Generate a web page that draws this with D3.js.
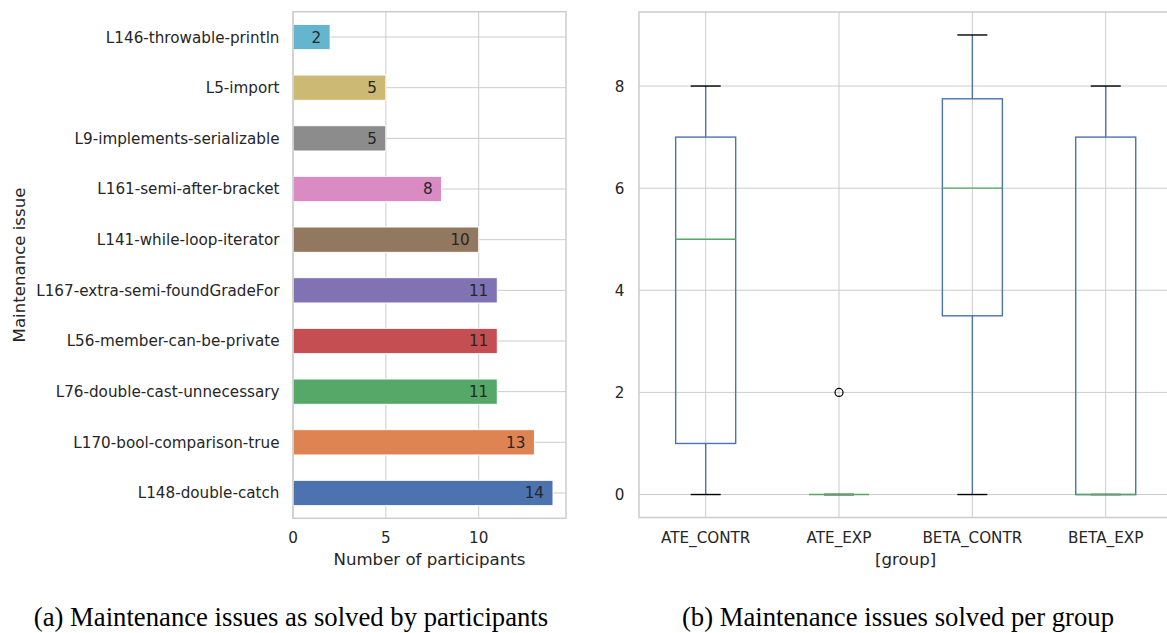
<!DOCTYPE html>
<html><head><meta charset="utf-8">
<script src="https://cdn.jsdelivr.net/npm/d3@7"></script>
<style>body{margin:0;background:#fff}svg{display:block}</style>
</head><body>
<svg id="c" width="1167" height="633"></svg>
<script>
// ---- data ----
const issues = ["L148-double-catch","L170-bool-comparison-true","L76-double-cast-unnecessary","L56-member-can-be-private","L167-extra-semi-foundGradeFor","L141-while-loop-iterator","L161-semi-after-bracket","L9-implements-serializable","L5-import","L146-throwable-println"];
const participants = [14,13,11,11,11,10,8,5,5,2];
const xTicksA = [0,5,10];

const groups = ["ATE_CONTR","ATE_EXP","BETA_CONTR","BETA_EXP"];
const whiskerLow = [0,0,0,0];
const q1 = [1,0,3.5,0];
const medians = [5,0,6,0];
const q3 = [7,0,7.75,7];
const whiskerHigh = [8,0,9,8];
const outliers = [[],[2],[],[]];
const yTicksB = [0,2,4,6,8];

const palette = ["#4C72B0","#DD8452","#55A868","#C44E52","#8172B3","#937860","#DA8BC3","#8C8C8C","#CCB974","#64B5CD"];

const svg = d3.select("#c");
const FONT = "DejaVu Sans, sans-serif";
const TXT = "#262626", GRID = "#cccccc";
const TICK = 15.2, LAB = 16.6;

// ---- left: bar chart ----
const xA = d3.scaleLinear().domain([0,14.7]).range([293,566]);
const yA = d3.scaleLinear().domain([-0.5,9.5]).range([518.3,11.7]);
const gA = svg.append("g");
gA.selectAll(".vg").data(xTicksA).join("line")
  .attr("x1",d=>xA(d)).attr("x2",d=>xA(d)).attr("y1",yA(-0.5)).attr("y2",yA(9.5))
  .attr("stroke",GRID).attr("stroke-width",1);
gA.selectAll(".hg").data(issues).join("line")
  .attr("x1",xA(0)).attr("x2",xA(14.7)).attr("y1",(d,i)=>yA(i)).attr("y2",(d,i)=>yA(i))
  .attr("stroke",GRID).attr("stroke-width",1);
gA.selectAll("rect.bar").data(participants).join("rect")
  .attr("x",xA(0)).attr("width",d=>xA(d)-xA(0))
  .attr("y",(d,i)=>yA(i+0.25)).attr("height",(d,i)=>yA(i-0.25)-yA(i+0.25))
  .attr("fill",(d,i)=>palette[i]).attr("stroke","#fff").attr("stroke-width",1);
gA.selectAll("text.val").data(participants).join("text")
  .attr("x",d=>xA(d)-9).attr("y",(d,i)=>yA(i)).attr("dy","0.36em")
  .attr("text-anchor","end").attr("font-family",FONT).attr("font-size",TICK).attr("fill",TXT)
  .text(d=>d);
gA.selectAll("text.cat").data(issues).join("text")
  .attr("x",xA(0)-13.5).attr("y",(d,i)=>yA(i)).attr("dy","0.36em")
  .attr("text-anchor","end").attr("font-family",FONT).attr("font-size",TICK).attr("fill",TXT)
  .text(d=>d);
gA.selectAll("text.xt").data(xTicksA).join("text")
  .attr("x",d=>xA(d)).attr("y",538).attr("dy","0.36em")
  .attr("text-anchor","middle").attr("font-family",FONT).attr("font-size",TICK).attr("fill",TXT)
  .text(d=>d);
gA.append("text").attr("x",(xA(0)+xA(14.7))/2).attr("y",559).attr("dy","0.36em")
  .attr("text-anchor","middle").attr("font-family",FONT).attr("font-size",LAB).attr("fill",TXT)
  .text("Number of participants");
gA.append("text").attr("transform",`translate(19,${(yA(-0.5)+yA(9.5))/2}) rotate(-90)`).attr("dy","0.36em")
  .attr("text-anchor","middle").attr("font-family",FONT).attr("font-size",LAB).attr("fill",TXT)
  .text("Maintenance issue");
gA.append("rect").attr("x",xA(0)).attr("y",yA(9.5)).attr("width",xA(14.7)-xA(0)).attr("height",yA(-0.5)-yA(9.5))
  .attr("fill","none").attr("stroke",GRID).attr("stroke-width",1.5);

// ---- right: box plot ----
const xB = d3.scaleLinear().domain([0.5,4.5]).range([639,1172.4]);
const yB = d3.scaleLinear().domain([-0.45,9.45]).range([517.5,12]);
const gB = svg.append("g");
gB.selectAll(".vg").data(groups).join("line")
  .attr("x1",(d,i)=>xB(i+1)).attr("x2",(d,i)=>xB(i+1)).attr("y1",yB(-0.45)).attr("y2",yB(9.45))
  .attr("stroke",GRID).attr("stroke-width",1);
gB.selectAll(".hg").data(yTicksB).join("line")
  .attr("x1",xB(0.5)).attr("x2",xB(4.5)).attr("y1",d=>yB(d)).attr("y2",d=>yB(d))
  .attr("stroke",GRID).attr("stroke-width",1);
const BOX="#4C72B0";
groups.forEach((g,i)=>{
  const p=i+1, hw=0.225, cw=0.1125;
  gB.append("line").attr("x1",xB(p)).attr("x2",xB(p)).attr("y1",yB(q3[i])).attr("y2",yB(whiskerHigh[i])).attr("stroke",BOX).attr("stroke-width",1.4);
  gB.append("line").attr("x1",xB(p)).attr("x2",xB(p)).attr("y1",yB(q1[i])).attr("y2",yB(whiskerLow[i])).attr("stroke",BOX).attr("stroke-width",1.4);
  [whiskerLow[i],whiskerHigh[i]].forEach(v=>{
    gB.append("line").attr("x1",xB(p-cw)).attr("x2",xB(p+cw)).attr("y1",yB(v)).attr("y2",yB(v)).attr("stroke","#000").attr("stroke-width",1.4);
  });
  gB.append("rect").attr("x",xB(p-hw)).attr("width",xB(p+hw)-xB(p-hw))
    .attr("y",yB(q3[i])).attr("height",Math.max(0,yB(q1[i])-yB(q3[i])))
    .attr("fill","none").attr("stroke",BOX).attr("stroke-width",1.4);
  gB.append("line").attr("x1",xB(p-hw)).attr("x2",xB(p+hw)).attr("y1",yB(medians[i])).attr("y2",yB(medians[i])).attr("stroke","#55A868").attr("stroke-width",1.4);
  outliers[i].forEach(v=>{
    gB.append("circle").attr("cx",xB(p)).attr("cy",yB(v)).attr("r",4).attr("fill","none").attr("stroke","#000").attr("stroke-width",1.2);
  });
});
gB.selectAll("text.yt").data(yTicksB).join("text")
  .attr("x",624.5).attr("y",d=>yB(d)).attr("dy","0.36em")
  .attr("text-anchor","end").attr("font-family",FONT).attr("font-size",TICK).attr("fill",TXT)
  .text(d=>d);
gB.selectAll("text.xt").data(groups).join("text")
  .attr("x",(d,i)=>xB(i+1)).attr("y",538).attr("dy","0.36em")
  .attr("text-anchor","middle").attr("font-family",FONT).attr("font-size",TICK).attr("fill",TXT)
  .text(d=>d);
gB.append("text").attr("x",(xB(0.5)+xB(4.5))/2).attr("y",559).attr("dy","0.36em")
  .attr("text-anchor","middle").attr("font-family",FONT).attr("font-size",LAB).attr("fill",TXT)
  .text("[group]");
gB.append("path").attr("d",`M${xB(4.5)},${yB(9.45)}H${xB(0.5)}V${yB(-0.45)}H${xB(4.5)}`)
  .attr("fill","none").attr("stroke",GRID).attr("stroke-width",1.5);

// ---- captions ----
svg.append("text").attr("x",291).attr("y",626).attr("text-anchor","middle")
  .attr("font-family","Liberation Serif, Times New Roman, serif").attr("font-size",26.7).attr("fill","#000")
  .text("(a) Maintenance issues as solved by participants");
svg.append("text").attr("x",898).attr("y",626).attr("text-anchor","middle")
  .attr("font-family","Liberation Serif, Times New Roman, serif").attr("font-size",26.7).attr("fill","#000")
  .text("(b) Maintenance issues solved per group");
</script>
</body></html>
